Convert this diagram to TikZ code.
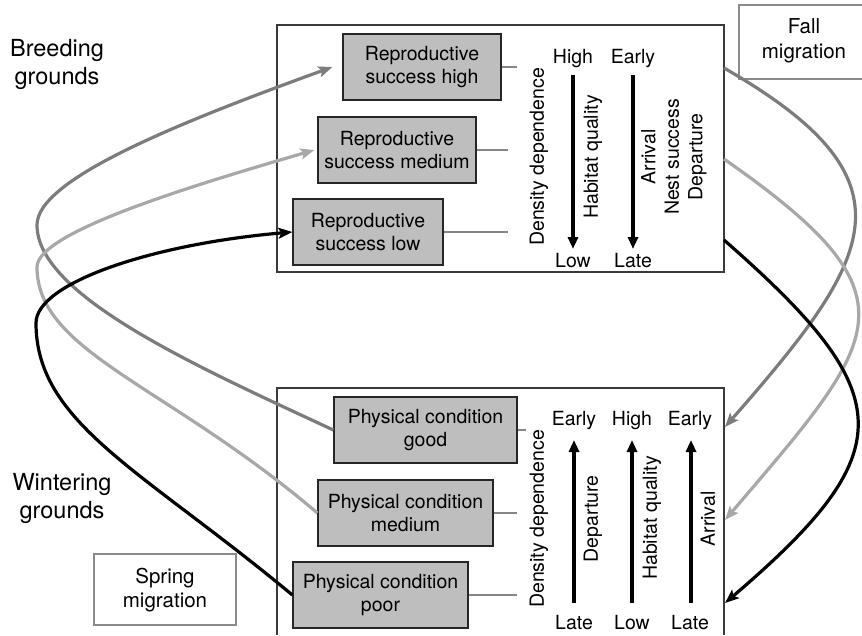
\documentclass[tikz,border=0pt]{standalone}
\usepackage{fontspec}
\setmainfont{TeX Gyre Heros}
\usetikzlibrary{arrows.meta}
\newcommand{\fsbody}{\fontsize{19.5}{23.5}\selectfont}
\newcommand{\fsmig}{\fontsize{20.5}{24.5}\selectfont}
\newcommand{\fsreg}{\fontsize{23.5}{28}\selectfont}
\definecolor{cdark}{HTML}{7C7C7C}
\definecolor{clight}{HTML}{A8A8A8}
\definecolor{cfill}{HTML}{BEBEBE}
\definecolor{cframe}{HTML}{3A3A3A}
\definecolor{cstub}{HTML}{858585}
\definecolor{cmig}{HTML}{8A8A8A}
\begin{document}
\begin{tikzpicture}[x=1pt,y=-1pt,
  sbox/.style={draw=black!85, line width=1.3pt, fill=cfill, align=center,
    font=\fsbody, inner sep=0pt, minimum height=66pt},
  lab/.style={font=\fsbody, inner sep=0pt, text height=14pt, text depth=4pt},
  rot/.style={font=\fsbody, inner sep=0pt, rotate=90, align=center},
  reg/.style={font=\fsreg, inner sep=0pt, align=center},
  mig/.style={font=\fsmig, inner sep=0pt, align=center},
  frame/.style={draw=cframe, line width=1.3pt},
  migframe/.style={draw=cmig, line width=1.2pt},
  stub/.style={draw=cstub, line width=2.2pt},
  varrow/.style={line width=3.6pt, -{Triangle[length=12pt,width=10pt]}},
  curve/.style={line width=3.2pt, -{Stealth[length=14pt,width=11pt,inset=3pt]}}
]
\useasboundingbox (0,0) rectangle (862,635);

% outer frames
\draw[frame] (277,25) rectangle (724,272);
\draw[frame] (277,635) -- (277,388) -- (724,388) -- (724,635);

% region labels
\node[reg] (breed) at (57,64) {Breeding\\grounds};
\node[reg] (winter) at (62,498) {Wintering\\grounds};

% migration label boxes
\draw[migframe] (862,5) -- (739,5) -- (739,79) -- (862,79);
\node[mig] (fall) at (804,41) {Fall\\migration};
\draw[migframe] (94,554) rectangle (236,625);
\node[mig] (spring) at (165,590) {Spring\\migration};

% breeding boxes
\node[sbox, minimum width=158pt] (rh) at (422,67) {Reproductive\\success high};
\node[sbox, minimum width=158pt] (rm) at (397,150) {Reproductive\\success medium};
\node[sbox, minimum width=150pt] (rl) at (368,232) {Reproductive\\success low};
\coordinate (rhs) at (517,67);
\coordinate (rms) at (508,150);
\coordinate (rls) at (508,232);
\draw[stub] (rh.east) -- (rhs);
\draw[stub] (rm.east) -- (rms);
\draw[stub] (rl.east) -- (rls);

% breeding scale
\node[rot] (bdd) at (539,157) {Density dependence};
\node[lab] (bhigh) at (573,58) {High};
\node[lab] (bearly) at (633,58) {Early};
\node[lab] (blow) at (573,262) {Low};
\node[lab] (blate) at (633,262) {Late};
\coordinate (ba1s) at (573,75);
\coordinate (ba1e) at (573,249);
\coordinate (ba2s) at (633,75);
\coordinate (ba2e) at (633,249);
\draw[varrow] (ba1s) -- (ba1e);
\draw[varrow] (ba2s) -- (ba2e);
\node[rot] (bhq) at (593,157) {Habitat quality};
\node[rot] (bands) at (674,157) {Arrival\\Nest success\\Departure};

% wintering boxes
\node[sbox, minimum width=183pt] (pg) at (425.5,430) {Physical condition\\good};
\node[sbox, minimum width=175pt] (pm) at (405.5,513) {Physical condition\\medium};
\node[sbox, minimum width=175pt] (pp) at (380.5,595) {Physical condition\\poor};
\coordinate (pgs) at (526,430);
\coordinate (pms) at (517,513);
\coordinate (pps) at (517,595);
\draw[stub] (pg.east) -- (pgs);
\draw[stub] (pm.east) -- (pms);
\draw[stub] (pp.east) -- (pps);

% wintering scale
\node[rot] (wdd) at (539,519) {Density dependence};
\node[lab] (wearly1) at (574,420) {Early};
\node[lab] (whigh) at (632,420) {High};
\node[lab] (wearly2) at (690,420) {Early};
\node[lab] (wlate1) at (574,624) {Late};
\node[lab] (wlow) at (632,624) {Low};
\node[lab] (wlate2) at (690,624) {Late};
\coordinate (wa1s) at (574,603);
\coordinate (wa1e) at (574,440);
\coordinate (wa2s) at (632,603);
\coordinate (wa2e) at (632,440);
\coordinate (wa3s) at (691,603);
\coordinate (wa3e) at (691,440);
\draw[varrow] (wa1s) -- (wa1e);
\draw[varrow] (wa2s) -- (wa2e);
\draw[varrow] (wa3s) -- (wa3e);
\node[rot] (wdep) at (593,519) {Departure};
\node[rot] (whq) at (652,518) {Habitat quality};
\node[rot] (warr) at (708,519) {Arrival};

% fall migration curves
\coordinate (f1s) at (724,68);
\coordinate (f2s) at (724,159);
\coordinate (f3s) at (724,240);
\coordinate (f1e) at (725,427);
\coordinate (f2e) at (725,520);
\coordinate (f3e) at (725,603);
\draw[curve, cdark] (f1s) .. controls +(197,113) and +(149,-170) .. (f1e);
\draw[curve, clight] (f2s) .. controls +(198,138) and +(157,-184) .. (f2e);
\draw[curve, black] (f3s) .. controls +(176,154) and +(178,-152) .. (f3e);

% spring migration curves
\coordinate (s1m) at (37,225);
\coordinate (s2m) at (37,267);
\coordinate (s3m) at (36,323);
\draw[curve, cdark] (pg.west) .. controls +(-140,-65) and +(0,70) .. (s1m)
  .. controls +(0,-45) and +(-160,58) .. ([xshift=-10pt]rh.west);
\draw[curve, clight] (pm.west) .. controls +(-150,-128) and +(0,85) .. (s2m)
  .. controls +(0,-35) and +(-120,35) .. ([xshift=-3pt]rm.west);
\draw[curve, black] (pp.west) .. controls +(-150,-125) and +(0,100) .. (s3m)
  .. controls +(0,-40) and +(-140,12) .. (rl.west);
\end{tikzpicture}
\end{document}
